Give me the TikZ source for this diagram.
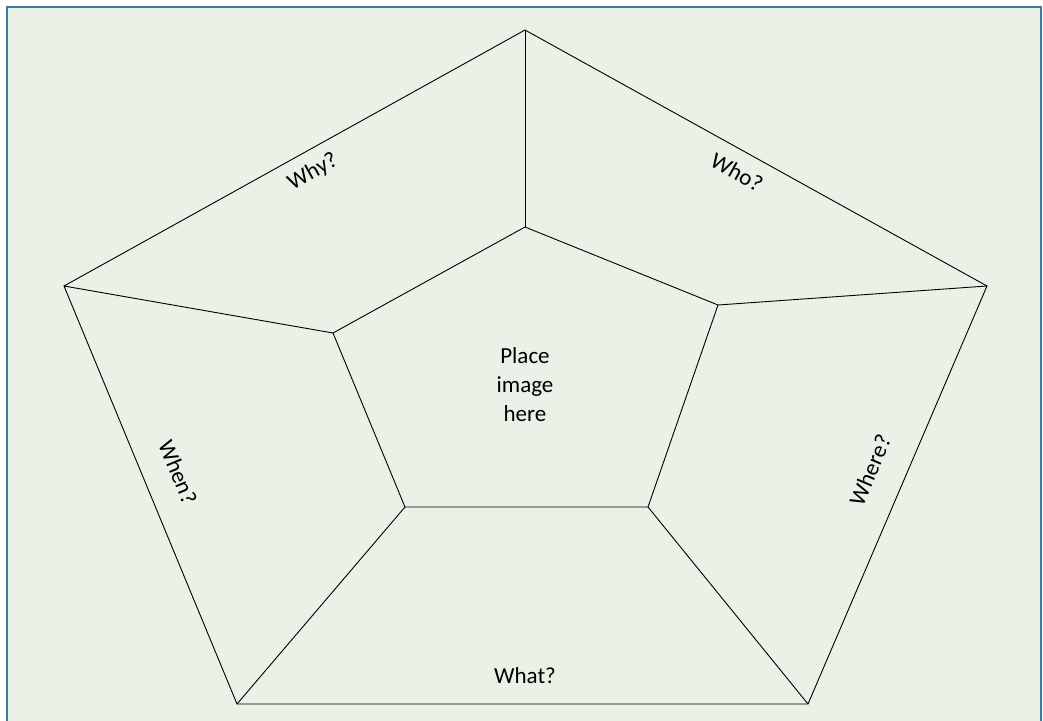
\documentclass[tikz,border=0pt]{standalone}
\usepackage{fontspec}
\setmainfont{Carlito}
\definecolor{framebg}{RGB}{235,241,230}
\definecolor{frameblue}{RGB}{58,124,165}
\begin{document}
\begin{tikzpicture}[
  x=1pt,y=-1pt,
  every node/.style={font=\fontsize{23}{29}\selectfont},
  edge/.style={line width=0.9pt,black},
  lbl/.style={inner sep=0pt,align=center},
]
  \useasboundingbox (0,0) rectangle (1043,720);

  % Background panel
  \fill[framebg] (7,7) rectangle (1041,730);
  \draw[frameblue,line width=2pt] (7,730) -- (7,7) -- (1041,7) -- (1041,730);

  % Outer pentagon
  \coordinate (otop) at (525,30);
  \coordinate (oright) at (987,286);
  \coordinate (obr) at (808,704);
  \coordinate (obl) at (237,704);
  \coordinate (oleft) at (64,286);

  % Inner pentagon
  \coordinate (itop) at (525,227);
  \coordinate (iright) at (718,305);
  \coordinate (ibr) at (648,507);
  \coordinate (ibl) at (405,507);
  \coordinate (ileft) at (333,333);

  \draw[edge] (otop) -- (oright) -- (obr) -- (obl) -- (oleft) -- cycle;
  \draw[edge] (itop) -- (iright) -- (ibr) -- (ibl) -- (ileft) -- cycle;

  % Spokes
  \draw[edge] (otop) -- (itop);
  \draw[edge] (oright) -- (iright);
  \draw[edge] (obr) -- (ibr);
  \draw[edge] (obl) -- (ibl);
  \draw[edge] (oleft) -- (ileft);

  % Labels
  \node[lbl] (center) at (525,385) {Place\\image\\here};
  \node[lbl,rotate=29] (why) at (313,172) {Why?};
  \node[lbl,rotate=-29] (who) at (737,172) {Who?};
  \node[lbl,rotate=-67.5] (when) at (178,472) {When?};
  \node[lbl,rotate=67] (where) at (870,470) {Where?};
  \node[lbl] (what) at (525,676) {What?};
\end{tikzpicture}
\end{document}
